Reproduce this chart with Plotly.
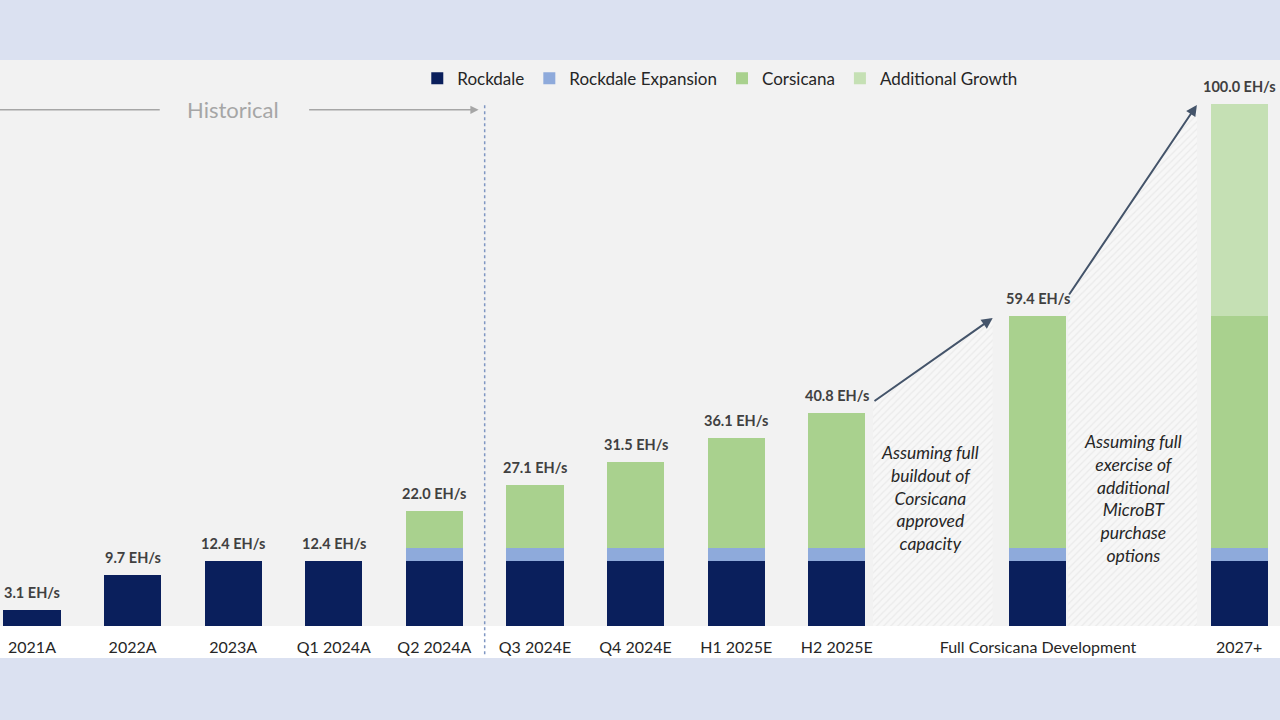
import plotly.graph_objects as go

categories = ["2021A", "2022A", "2023A", "Q1 2024A", "Q2 2024A", "Q3 2024E",
              "Q4 2024E", "H1 2025E", "H2 2025E", "Full Corsicana Development", "2027+"]
rockdale = [3.1, 9.7, 12.4, 12.4, 12.4, 12.4, 12.4, 12.4, 12.4, 12.4, 12.4]
rockdale_expansion = [0, 0, 0, 0, 2.6, 2.6, 2.6, 2.6, 2.6, 2.6, 2.6]
corsicana = [0, 0, 0, 0, 7.0, 12.1, 16.5, 21.1, 25.8, 44.4, 44.4]
additional_growth = [0, 0, 0, 0, 0, 0, 0, 0, 0, 0, 40.6]
totals = [3.1, 9.7, 12.4, 12.4, 22.0, 27.1, 31.5, 36.1, 40.8, 59.4, 100.0]
notes = ["Assuming full<br>buildout of<br>Corsicana<br>approved<br>capacity",
         "Assuming full<br>exercise of<br>additional<br>MicroBT<br>purchase<br>options"]
historical_label = "Historical"
unit = "EH/s"

# slot positions: gaps after H2 2025E and after Full Corsicana Development for notes
slots = list(range(9)) + [10, 12]
note_slots = [9, 11]

FONT = "Lato"
colors = {"Rockdale": "#0a1f5c", "Rockdale Expansion": "#8eaadb",
          "Corsicana": "#a9d18e", "Additional Growth": "#c5e0b4"}
BAR_W = 0.567

fig = go.Figure()

# hatched transition areas (built from the totals of neighbouring bars)
hatch_specs = [
    (8, 9, 0.36, 0.45, 2.1, -0.4),
    (9, 10, 0.30, 0.42, 3.8, -0.2),
]
arrow_pts = []
for i0, i1, dl, dr, up0, up1 in hatch_specs:
    xa = slots[i0] + dl
    xb = slots[i1] - dr
    ya = totals[i0] + up0
    yb = totals[i1] + up1
    arrow_pts.append((xa, ya, xb, yb))
    fig.add_trace(go.Scatter(
        x=[xa, xa, xb, xb, xa], y=[0, ya, yb, 0, 0], mode="lines",
        fill="toself", line=dict(width=0), fillcolor="#f6f6f6",
        fillpattern=dict(shape="/", fgcolor="#dedede", bgcolor="#f7f7f7",
                         size=5, solidity=0.25),
        showlegend=False, hoverinfo="skip"))

for name, vals in [("Rockdale", rockdale), ("Rockdale Expansion", rockdale_expansion),
                   ("Corsicana", corsicana), ("Additional Growth", additional_growth)]:
    fig.add_trace(go.Bar(x=slots, y=vals, name=name, width=BAR_W,
                         marker=dict(color=colors[name], line=dict(width=0))))

annotations = []
for s, t in zip(slots, totals):
    annotations.append(dict(x=s, y=t, xref="x", yref="y", text=f"<b>{t:.1f} {unit}</b>",
                            showarrow=False, yanchor="bottom", yshift=7,
                            font=dict(family=FONT, size=14.5, color="#404040")))

note_x_off = [-0.07, -0.06]
for s, txt, dx in zip(note_slots, notes, note_x_off):
    annotations.append(dict(x=s + dx, y=24.5, xref="x", yref="y", text=txt,
                            showarrow=False, align="center",
                            font=dict(family=FONT, size=17.5, color="#262626", style="italic")))

for xa, ya, xb, yb in arrow_pts:
    annotations.append(dict(x=xb, y=yb, ax=xa, ay=ya, xref="x", yref="y",
                            axref="x", ayref="y", text="", showarrow=True,
                            arrowhead=2, arrowsize=1.1, arrowwidth=2, arrowcolor="#44546a"))

# Historical marker
hist_y = 98.85
divider_x = 4.5
annotations.append(dict(x=2.0, y=hist_y, xref="x", yref="y", text=historical_label,
                        showarrow=False, font=dict(family=FONT, size=22, color="#a6a6a6")))
annotations.append(dict(x=divider_x - 0.06, y=hist_y, ax=2.74, ay=hist_y, xref="x", yref="y",
                        axref="x", ayref="y", text="", showarrow=True, arrowhead=2,
                        arrowsize=1.1, arrowwidth=1.5, arrowcolor="#a6a6a6"))

shapes = [
    dict(type="rect", xref="paper", yref="paper", x0=0, x1=1, y0=-0.0565, y1=0,
         fillcolor="#ffffff", line=dict(width=0), layer="below"),
    dict(type="line", xref="x", yref="y", x0=-0.4, x1=1.27, y0=hist_y, y1=hist_y,
         line=dict(color="#a6a6a6", width=1.5)),
    dict(type="line", xref="x", yref="paper", x0=divider_x, x1=divider_x, y0=-0.05, y1=0.925,
         line=dict(color="#7f96c2", width=1.5, dash="dot")),
]

fig.update_layout(
    width=1280, height=720,
    margin=dict(l=0, r=0, t=60, b=94),
    paper_bgcolor="#dbe1f1", plot_bgcolor="#f2f2f2",
    barmode="stack", bargap=0,
    font=dict(family=FONT, color="#262626"),
    xaxis=dict(range=[-0.318, 12.406], tickmode="array", tickvals=slots, ticktext=categories,
               showgrid=False, zeroline=False, showline=False, ticks="",
               tickfont=dict(family=FONT, size=16, color="#262626"), ticklabelstandoff=10,
               fixedrange=True),
    yaxis=dict(range=[0, 108.4], visible=False, fixedrange=True),
    legend=dict(orientation="h", x=0.326, xanchor="left", y=0.967, yanchor="middle",
                bgcolor="rgba(0,0,0,0)", traceorder="normal",
                font=dict(family=FONT, size=17, color="#262626")),
    annotations=annotations, shapes=shapes,
)

fig.write_html("out.html", config={"displayModeBar": False},
               post_script="document.body.style.margin='0';document.body.style.overflow='hidden';")
